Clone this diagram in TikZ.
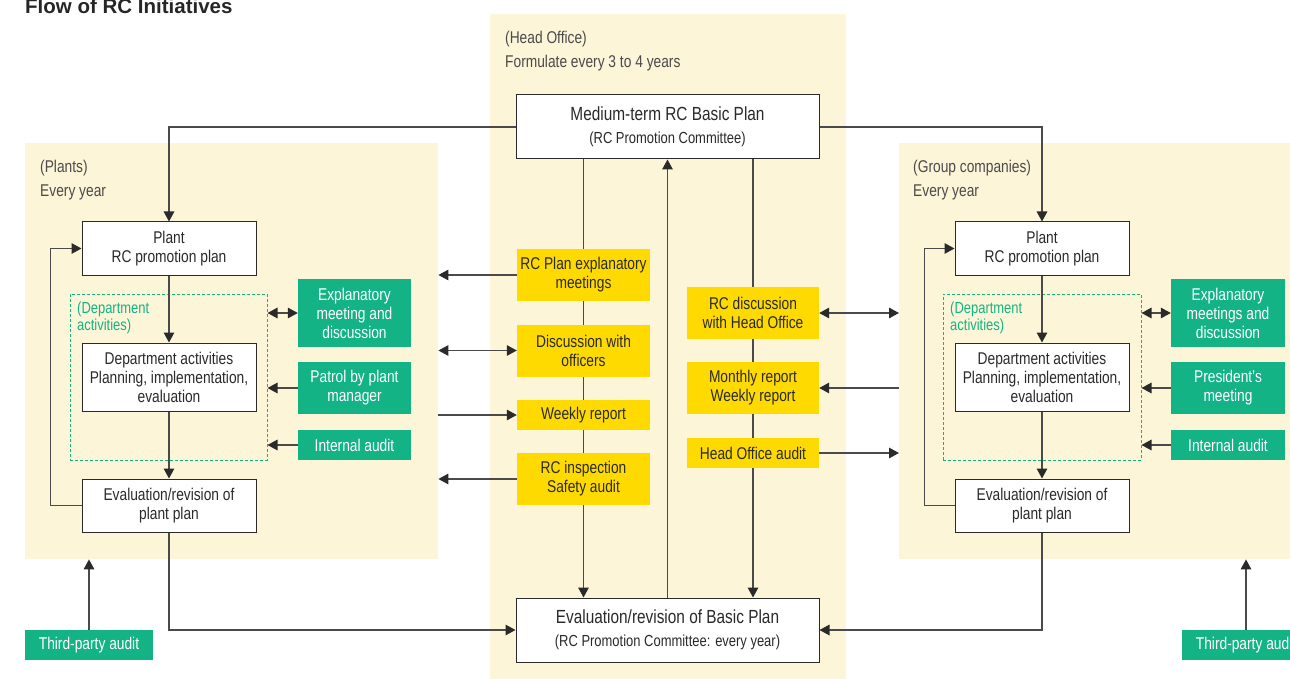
\documentclass[tikz,border=0pt]{standalone}
\usepackage{fontspec}
\setmainfont{Liberation Sans}[FakeStretch=0.81]
\newfontfamily\titlefont{Liberation Sans}
\usetikzlibrary{arrows.meta}

\definecolor{cream}{HTML}{FDF5D7}
\definecolor{rcyellow}{HTML}{FFDA00}
\definecolor{rcgreen}{HTML}{13B386}
\definecolor{wire}{HTML}{4A4A4A}
\definecolor{ink}{HTML}{2A2A2A}

\pgfdeclarelayer{panels}
\pgfdeclarelayer{wires}
\pgfsetlayers{panels,wires,main}

\begin{document}
\begin{tikzpicture}[x=1pt,y=-1pt,
  every node/.style={font=\fontsize{17}{19}\selectfont, text=ink, inner sep=0pt},
  panel/.style={fill=cream, anchor=north west},
  label/.style={align=left, anchor=north west, text=ink!85, font=\fontsize{17}{24}\selectfont},
  wbox/.style={draw=ink, line width=1pt, fill=white, align=center, minimum width=174pt, minimum height=53pt},
  bigbox/.style={wbox, minimum width=303pt, minimum height=64pt},
  ybox/.style={fill=rcyellow, align=center, minimum width=133pt, minimum height=52pt},
  gbox/.style={fill=rcgreen, text=white, align=center, minimum width=114pt, minimum height=52pt},
  deptzone/.style={draw=rcgreen, dashed, dash pattern=on 3pt off 2pt, line width=1pt, minimum width=197pt, minimum height=166pt},
  tip/.tip={Triangle[length=10pt,width=10.5pt,color=ink]},
  arr/.style={draw=wire, line width=1.5pt, -tip},
  dbl/.style={draw=wire, line width=1.5pt, tip-tip}]
\useasboundingbox (0,0) rectangle (1290,679);

% background areas
\begin{pgfonlayer}{panels}
\node[panel, minimum width=356pt, minimum height=666pt] (headpanel) at (490,14) {};
\node[panel, minimum width=413pt, minimum height=416pt] (plantpanel) at (25,143) {};
\node[panel, minimum width=400pt, minimum height=416pt] (grouppanel) at (899,143) {};
\end{pgfonlayer}

\node[anchor=base west, text=ink!90!black, font=\titlefont\bfseries\fontsize{20.5}{22}\selectfont] (title) at (25,14) {Flow of RC Initiatives};
\node[label] (headlabel) at (505,31) {(Head Office)\\Formulate every 3 to 4 years};
\node[label] (plantlabel) at (40,160) {(Plants)\\Every year};
\node[label] (grouplabel) at (913,160) {(Group companies)\\Every year};

% head office
\node[bigbox] (medium) at (667.5,127) {{\fontsize{19}{22}\selectfont Medium-term RC Basic Plan}\\[4pt]{\fontsize{16}{18}\selectfont (RC Promotion Committee)}};
\node[bigbox] (evalbasic) at (667.5,630) {{\fontsize{19}{22}\selectfont Evaluation/revision of Basic Plan}\\[4pt]{\fontsize{16}{18}\selectfont (RC Promotion Committee: every year)}};
\node[ybox] (rcexpl) at (583.5,275) {RC Plan explanatory\\meetings};
\node[ybox] (officers) at (583.5,350.5) {Discussion with\\officers};
\node[ybox, minimum height=30pt] (weekly) at (583.5,415) {Weekly report};
\node[ybox] (inspect) at (583.5,479) {RC inspection\\Safety audit};
\node[ybox, minimum width=132pt] (rcdisc) at (753,313) {RC discussion\\with Head Office};
\node[ybox, minimum width=132pt] (monthly) at (753,388) {Monthly report\\Weekly report};
\node[ybox, minimum width=132pt, minimum height=30pt] (hoaudit) at (753,453) {Head Office audit};

% plants
\node[wbox] (plantL) at (169,248.5) {Plant\\RC promotion plan};
\node[deptzone] (dashL) at (168.5,377) {};
\node[anchor=north west, align=left, text=rcgreen, font=\fontsize{16}{17}\selectfont] (deptlabelL) at (77,302) {(Department\\activities)};
\node[wbox, minimum height=68pt] (deptboxL) at (169,377) {Department activities\\Planning, implementation,\\evaluation};
\node[wbox] (evalL) at (169,505.5) {Evaluation/revision of\\plant plan};
\node[gbox, minimum width=113pt, minimum height=68pt] (explL) at (354.5,313) {Explanatory\\meeting and\\discussion};
\node[gbox, minimum width=113pt] (patrol) at (354.5,388) {Patrol by plant\\manager};
\node[gbox, minimum width=113pt, minimum height=30pt] (auditL) at (354.5,445) {Internal audit};
\node[gbox, minimum width=128pt, minimum height=30pt] (thirdL) at (89,645) {Third-party audit};

% group companies
\node[wbox] (plantR) at (1042,248.5) {Plant\\RC promotion plan};
\node[deptzone, minimum width=198pt] (dashR) at (1042,377) {};
\node[anchor=north west, align=left, text=rcgreen, font=\fontsize{16}{17}\selectfont] (deptlabelR) at (950,302) {(Department\\activities)};
\node[wbox, minimum height=68pt] (deptboxR) at (1042,377) {Department activities\\Planning, implementation,\\evaluation};
\node[wbox] (evalR) at (1042,505.5) {Evaluation/revision of\\plant plan};
\node[gbox, minimum height=68pt] (explR) at (1228,313) {Explanatory\\meetings and\\discussion};
\node[gbox] (president) at (1228,388) {President’s\\meeting};
\node[gbox, minimum height=30pt] (auditR) at (1228,445) {Internal audit};
\node[gbox, minimum width=128pt, minimum height=30pt] (thirdR) at (1246,645) {Third-party audit};

\begin{pgfonlayer}{wires}
\draw[arr] (medium.west) -| (plantL.north);
\draw[arr] (medium.east) -| (plantR.north);
\draw[arr] (medium.south -| rcexpl.south) -- (evalbasic.north -| rcexpl.south);
\draw[arr] (evalbasic.north) -- (medium.south);
\draw[arr] (medium.south -| rcdisc.south) -- (evalbasic.north -| rcdisc.south);
\end{pgfonlayer}

% head office links
\draw[arr] (rcexpl.west) -- (rcexpl.west -| plantpanel.east);
\draw[dbl] (officers.west) -- (officers.west -| plantpanel.east);
\draw[arr] (weekly.west -| plantpanel.east) -- (weekly.west);
\draw[arr] (inspect.west) -- (inspect.west -| plantpanel.east);
\draw[dbl] (rcdisc.east) -- (rcdisc.east -| grouppanel.west);
\draw[arr] (monthly.east -| grouppanel.west) -- (monthly.east);
\draw[arr] (hoaudit.east) -- (hoaudit.east -| grouppanel.west);

% plant flow
\draw[arr] (plantL) -- (deptboxL);
\draw[arr] (deptboxL) -- (evalL);
\draw[arr] (evalL.west) -- ++(-31,0) |- (plantL.west);
\draw[arr] (evalL.south) |- (evalbasic.west);
\draw[dbl] (explL.west) -- (explL.west -| dashL.east);
\draw[arr] (patrol.west) -- (patrol.west -| dashL.east);
\draw[arr] (auditL.west) -- (auditL.west -| dashL.east);
\draw[arr] (thirdL.north) -- (thirdL.north |- plantpanel.south);

% group flow
\draw[arr] (plantR) -- (deptboxR);
\draw[arr] (deptboxR) -- (evalR);
\draw[arr] (evalR.west) -- ++(-30,0) |- (plantR.west);
\draw[arr] (evalR.south) |- (evalbasic.east);
\draw[dbl] (explR.west) -- (explR.west -| dashR.east);
\draw[arr] (president.west) -- (president.west -| dashR.east);
\draw[arr] (auditR.west) -- (auditR.west -| dashR.east);
\draw[arr] (thirdR.north) -- (thirdR.north |- grouppanel.south);
\end{tikzpicture}
\end{document}
